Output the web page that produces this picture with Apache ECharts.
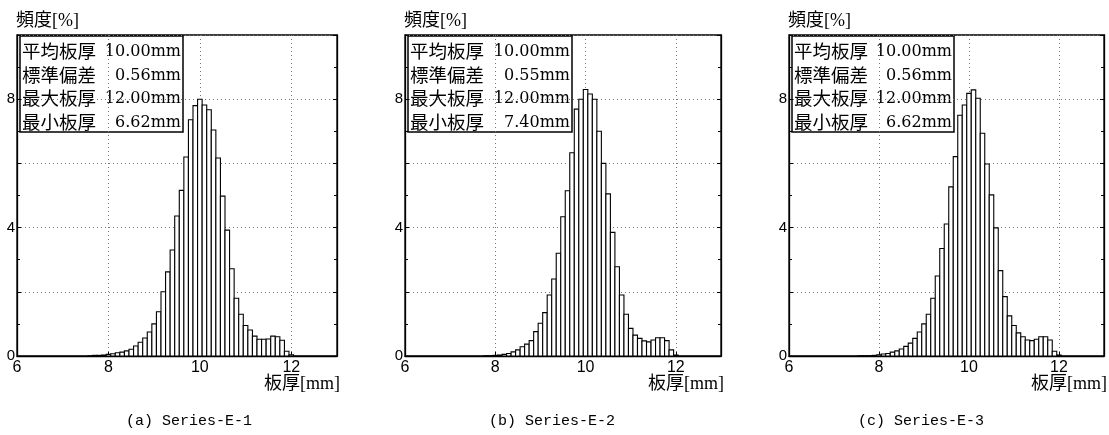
<!DOCTYPE html>
<html>
<head>
<meta charset="utf-8">
<script src="https://cdn.jsdelivr.net/npm/echarts@6/dist/echarts.min.js"></script>
<style>
  html, body { margin: 0; padding: 0; background: #fff; }
  #chart { width: 1109px; height: 435px; }
</style>
</head>
<body>
<div id="chart"></div>
<script>
// bin centres of the thickness histogram [mm]
const binCenters = [
  7.6, 7.7, 7.8, 7.9,
  8.0, 8.1, 8.2, 8.3, 8.4, 8.5, 8.6, 8.7, 8.8, 8.9,
  9.0, 9.1, 9.2, 9.3, 9.4, 9.5, 9.6, 9.7, 9.8, 9.9,
  10.0, 10.1, 10.2, 10.3, 10.4, 10.5, 10.6, 10.7, 10.8, 10.9,
  11.0, 11.1, 11.2, 11.3, 11.4, 11.5, 11.6, 11.7, 11.8, 11.9,
  12.0
];

// frequency [%]
const freqE1 = [
  0.01, 0.02, 0.02, 0.03,
  0.05, 0.07, 0.10, 0.12, 0.16, 0.21, 0.31, 0.43, 0.56, 0.75,
  1.00, 1.38, 2.00, 2.62, 3.30, 4.36, 5.16, 6.20, 7.36, 7.80,
  8.00, 7.82, 7.67, 7.04, 6.17, 4.98, 3.92, 2.72, 1.80, 1.30,
  0.95, 0.81, 0.62, 0.52, 0.52, 0.53, 0.62, 0.60, 0.49, 0.15,
  0.04
];
const freqE2 = [
  0, 0, 0.01, 0.01,
  0.02, 0.03, 0.05, 0.08, 0.13, 0.19, 0.29, 0.37, 0.48, 0.76,
  1.02, 1.35, 1.90, 2.40, 3.20, 4.34, 5.15, 6.33, 7.69, 8.00,
  8.30, 8.16, 8.00, 7.00, 6.00, 5.05, 3.85, 2.78, 1.90, 1.30,
  0.86, 0.65, 0.55, 0.47, 0.44, 0.50, 0.57, 0.57, 0.48, 0.19,
  0.03
];
const freqE3 = [
  0.01, 0.01, 0.01, 0.02,
  0.04, 0.06, 0.08, 0.12, 0.16, 0.22, 0.30, 0.40, 0.55, 0.75,
  1.00, 1.30, 1.80, 2.49, 3.35, 4.11, 5.27, 6.21, 7.50, 7.82,
  8.18, 8.29, 8.03, 6.94, 5.98, 5.02, 3.99, 2.66, 1.85, 1.25,
  0.95, 0.72, 0.60, 0.50, 0.48, 0.52, 0.60, 0.60, 0.50, 0.15,
  0.03
];

const statLabels = ["平均板厚", "標準偏差", "最大板厚", "最小板厚"];
const statsE1 = ["10.00mm", "0.56mm", "12.00mm", "6.62mm"];
const statsE2 = ["10.00mm", "0.55mm", "12.00mm", "7.40mm"];
const statsE3 = ["10.00mm", "0.56mm", "12.00mm", "6.62mm"];
const captions = ["(a) Series-E-1", "(b) Series-E-2", "(c) Series-E-3"];
const yTitle = "頻度[%]";
const xTitle = "板厚[mm]";

// layout of the three panels (px)
const panels = [
  { left: 17, width: 320, boxW: 163, capX: 189, freq: freqE1, stats: statsE1 },
  { left: 405, width: 316, boxW: 164, capX: 552, freq: freqE2, stats: statsE2 },
  { left: 789, width: 315, boxW: 162, capX: 921, freq: freqE3, stats: statsE3 },
];
const TOP = 35, HEIGHT = 321;
const serif = "'Liberation Serif', 'Noto Sans CJK JP', serif";
const cjk = "'Noto Sans CJK JP', sans-serif";
const sans = "'Liberation Sans', Arial, sans-serif";

const chart = echarts.init(document.getElementById("chart"), null, { renderer: "canvas" });

function renderBin(params, api) {
  const x = api.value(0);
  const y = api.value(1);
  if (!y) return null;
  const p0 = api.coord([x - 0.05, y]);
  const p1 = api.coord([x + 0.05, 0]);
  return {
    type: "rect",
    shape: { x: p0[0], y: p0[1], width: p1[0] - p0[0], height: p1[1] - p0[1] },
    style: { fill: "#fff", stroke: "#000", lineWidth: 1.1 },
  };
}

const grid = [], xAxis = [], yAxis = [], series = [], graphic = [];

panels.forEach((p, i) => {
  grid.push({
    left: p.left, top: TOP, width: p.width, height: HEIGHT,
    show: true, borderColor: "#000", borderWidth: 1.3, backgroundColor: "#fff",
  });

  xAxis.push({
    type: "value", gridIndex: i, min: 6, max: 13, interval: 2,
    axisLine: { show: true, lineStyle: { color: "#000", width: 1.3 } },
    axisTick: { show: true, inside: true, length: 4, lineStyle: { color: "#000" } },
    axisLabel: {
      color: "#000", fontFamily: sans, fontSize: 16, margin: 4,
      formatter: (v) => (v === 13 ? "" : String(v)),
    },
    splitLine: { show: true, lineStyle: { color: "#777", type: [1, 3], width: 1 } },
  });

  yAxis.push({
    type: "value", gridIndex: i, min: 0, max: 10, interval: 2,
    axisLine: { show: true, lineStyle: { color: "#000", width: 1.3 } },
    axisTick: { show: true, inside: true, length: 4, lineStyle: { color: "#000" } },
    minorTick: { show: true, splitNumber: 2, length: 3, lineStyle: { color: "#000" } },
    axisLabel: {
      color: "#000", fontFamily: sans, fontSize: 15, margin: 2,
      formatter: (v) => (v % 4 === 0 && v < 10 ? String(v) : ""),
    },
    splitLine: { show: true, lineStyle: { color: "#777", type: [1, 3], width: 1 } },
  });
  yAxis.push({
    type: "value", gridIndex: i, min: 0, max: 10, interval: 2, position: "right",
    axisLine: { show: true, lineStyle: { color: "#000", width: 1.3 } },
    axisTick: { show: true, inside: true, length: 4, lineStyle: { color: "#000" } },
    minorTick: { show: true, splitNumber: 2, length: 3, lineStyle: { color: "#000" } },
    axisLabel: { show: false },
    splitLine: { show: false },
  });

  series.push({
    type: "custom",
    name: captions[i],
    xAxisIndex: i,
    yAxisIndex: i * 2,
    renderItem: renderBin,
    encode: { x: 0, y: 1 },
    data: binCenters.map((c, k) => [c, p.freq[k]]),
    z: 3,
  });

  // y title above the plot
  graphic.push({
    type: "text", x: p.left - 1, y: 21, z: 50,
    style: { text: yTitle, font: `18px ${serif}`, fill: "#000", verticalAlign: "middle" },
  });

  // x title under the right end of the axis
  graphic.push({
    type: "text", x: p.left + p.width + 3, y: 384, z: 50,
    style: { text: xTitle, font: `18px ${serif}`, fill: "#000", align: "right", verticalAlign: "middle" },
  });

  // statistics box
  const bx = p.left + 3, by = TOP + 1, rowH = 23.5;
  const children = [{
    type: "rect",
    shape: { x: 0, y: 0, width: p.boxW, height: 96 },
    style: { fill: "#fff", stroke: "#000", lineWidth: 1.5 },
  }];
  statLabels.forEach((lab, r) => {
    const cy = 15 + r * rowH;
    children.push({
      type: "text", x: 2, y: cy,
      style: { text: lab, font: `18.5px ${cjk}`, fill: "#000", verticalAlign: "middle" },
    });
    children.push({
      type: "text", x: p.boxW - 2, y: cy + 1,
      style: { text: p.stats[r], font: `16px 'DejaVu Serif', serif`, fill: "#000", align: "right", verticalAlign: "middle" },
    });
  });
  graphic.push({ type: "group", x: bx, y: by, z: 40, children });

  // caption
  graphic.push({
    type: "text", x: p.capX, y: 421, z: 50,
    style: { text: captions[i], font: `15px 'Liberation Mono', monospace`, fill: "#000", align: "center", verticalAlign: "middle" },
  });
});

chart.setOption({
  backgroundColor: "#fff",
  animation: false,
  grid,
  xAxis,
  yAxis,
  series,
  graphic,
});

window.addEventListener("resize", () => chart.resize());
</script>
</body>
</html>
